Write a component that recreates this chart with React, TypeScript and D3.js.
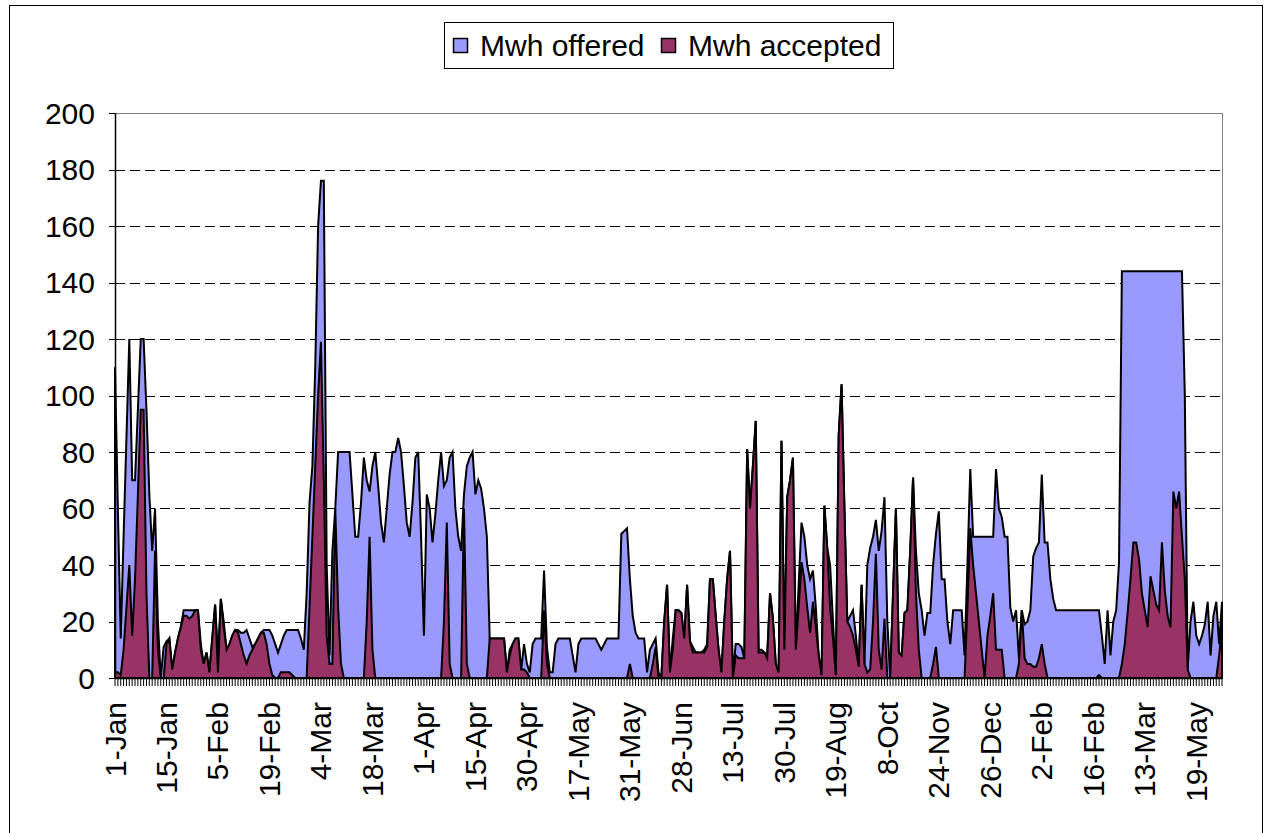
import React from "react";
import * as d3 from "d3";

// category labels shown every 18th point
const tickLabels = [
  "1-Jan", "15-Jan", "5-Feb", "19-Feb", "4-Mar", "18-Mar", "1-Apr", "15-Apr",
  "30-Apr", "17-May", "31-May", "28-Jun", "13-Jul", "30-Jul", "19-Aug", "8-Oct",
  "24-Nov", "26-Dec", "2-Feb", "16-Feb", "13-Mar", "19-May",
];
const labelEvery = 18;

const offered = [
  110, 60, 14, 50, 85, 120, 70, 70, 95, 120,
  120, 95, 65, 45, 60, 20, 0, 11, 13, 14,
  3, 9, 14, 18, 24, 24, 24, 24, 24, 24,
  12, 5, 9, 2, 14, 26, 8, 28, 20, 10,
  12, 15, 17, 17, 16, 16, 17, 14, 11, 12,
  14, 16, 17, 17, 17, 15, 12, 9, 12, 15,
  17, 17, 17, 17, 17, 14, 10, 30, 62, 75,
  110, 160, 176, 176, 40, 8, 45, 60, 80, 80,
  80, 80, 80, 65, 50, 50, 62, 78, 70, 66,
  75, 80, 68, 55, 48, 60, 72, 80, 80, 85,
  80, 68, 55, 50, 62, 78, 80, 50, 15, 65,
  60, 48, 58, 70, 80, 68, 70, 78, 80, 60,
  50, 45, 65, 75, 78, 80, 65, 70, 67, 60,
  50, 14, 14, 14, 14, 14, 14, 2, 10, 12,
  14, 14, 3, 12, 5, 2, 12, 14, 14, 14,
  38, 11, 2, 2, 12, 14, 14, 14, 14, 14,
  8, 2, 12, 14, 14, 14, 14, 14, 14, 12,
  10, 12, 14, 14, 14, 14, 14, 51, 52, 53,
  35, 22, 16, 14, 14, 14, 2, 10, 12, 14,
  2, 0, 20, 33, 2, 14, 24, 24, 23, 14,
  33, 13, 11, 9, 9, 9, 10, 12, 35, 35,
  22, 10, 2, 20, 35, 45, 1, 12, 12, 11,
  7, 81, 60, 75, 91, 10, 10, 9, 8, 30,
  21, 5, 2, 84, 10, 64, 70, 78, 10, 33,
  55, 50, 40, 35, 38, 25, 8, 1, 61, 46,
  40, 20, 1, 86, 104, 60, 20, 22, 24, 15,
  4, 33, 5, 40, 46, 50, 56, 45, 52, 64,
  20, 0, 30, 60, 9, 8, 23, 24, 45, 71,
  45, 30, 24, 15, 23, 23, 40, 51, 59, 35,
  35, 20, 12, 24, 24, 24, 24, 8, 40, 74,
  50, 50, 50, 50, 50, 50, 50, 50, 74, 60,
  57, 50, 50, 25, 20, 24, 7, 24, 19, 20,
  24, 43, 46, 48, 72, 48, 48, 35, 28, 24,
  24, 24, 24, 24, 24, 24, 24, 24, 24, 24,
  24, 24, 24, 24, 24, 15, 5, 24, 8, 20,
  24, 41, 144, 144, 144, 144, 144, 144, 144, 144,
  144, 144, 144, 144, 144, 144, 144, 144, 144, 144,
  144, 144, 144, 144, 100, 3, 20, 27, 15, 12,
  15, 19, 27, 8, 22, 27, 12, 27,
];

const accepted = [
  2, 2, 1, 10, 25, 40, 15, 35, 65, 95,
  95, 30, 0, 0, 45, 10, 0, 0, 12, 14,
  3, 9, 14, 18, 22, 22, 21, 22, 24, 24,
  10, 5, 9, 2, 14, 26, 2, 28, 18, 10,
  12, 15, 17, 16, 12, 8, 5, 8, 10, 12,
  14, 16, 16, 12, 5, 1, 0, 0, 2, 2,
  2, 2, 1, 0, 0, 0, 0, 0, 25, 50,
  75, 100, 119, 70, 15, 5, 5, 60, 25, 5,
  0, 0, 0, 0, 0, 0, 0, 0, 20, 50,
  10, 0, 0, 0, 0, 0, 0, 0, 0, 0,
  0, 0, 0, 0, 0, 0, 0, 0, 0, 0,
  0, 0, 0, 0, 0, 20, 55, 5, 0, 0,
  0, 0, 60, 5, 0, 0, 0, 0, 0, 0,
  0, 14, 14, 14, 14, 14, 14, 2, 8, 12,
  14, 14, 3, 3, 2, 0, 0, 0, 0, 0,
  24, 5, 0, 0, 0, 0, 0, 0, 0, 0,
  0, 0, 0, 0, 0, 0, 0, 0, 0, 0,
  0, 0, 0, 0, 0, 0, 0, 0, 0, 0,
  5, 0, 0, 0, 0, 0, 0, 0, 5, 11,
  0, 0, 20, 33, 2, 10, 24, 24, 23, 14,
  33, 13, 9, 9, 9, 9, 9, 11, 35, 35,
  22, 10, 2, 20, 35, 45, 0, 8, 7, 7,
  7, 81, 60, 75, 91, 9, 9, 9, 7, 30,
  21, 5, 2, 84, 10, 64, 70, 78, 10, 25,
  41, 35, 25, 16, 27, 18, 8, 1, 61, 46,
  25, 14, 1, 86, 104, 60, 20, 18, 15, 10,
  4, 33, 5, 2, 3, 20, 44, 10, 3, 21,
  0, 0, 30, 60, 9, 8, 23, 24, 45, 71,
  30, 10, 0, 0, 0, 0, 5, 11, 0, 0,
  0, 0, 0, 0, 0, 0, 0, 0, 25, 53,
  40, 30, 20, 10, 0, 15, 22, 30, 10, 10,
  10, 0, 0, 0, 0, 0, 5, 24, 7, 5,
  5, 4, 4, 7, 12, 5, 0, 0, 0, 0,
  0, 0, 0, 0, 0, 0, 0, 0, 0, 0,
  0, 0, 0, 0, 1, 0, 0, 0, 0, 0,
  0, 0, 5, 12, 23, 35, 48, 48, 42, 30,
  24, 18, 36, 31, 26, 24, 48, 31, 22, 18,
  66, 60, 66, 50, 35, 3, 0, 0, 0, 0,
  0, 0, 0, 0, 0, 0, 8, 18,
];

const yTicks = [0, 20, 40, 60, 80, 100, 120, 140, 160, 180, 200];

const seriesNames = ["Mwh offered", "Mwh accepted"];
const seriesColors = ["#9999FF", "#993366"];

const font = "'Liberation Sans', Arial, sans-serif";

export default function App() {
  const width = 1272;
  const height = 833;
  const left = 115, right = 1222, top = 113, bottom = 678;

  const x = d3.scaleLinear().domain([0, offered.length - 1]).range([left, right]);
  const y = d3.scaleLinear().domain([0, 200]).range([bottom, top]);

  const area = d3.area<number>()
    .x((d, i) => x(i))
    .y0(y(0))
    .y1(d => y(d));

  const idx = d3.range(offered.length);

  return (
    <svg width={width} height={height}
      style={{ position: "absolute", left: 0, top: 0, background: "#fff" }}
      fontFamily={font}>
      <rect x={9.5} y={5.5} width={1253} height={900} fill="#fff" stroke="#000" strokeWidth={1} />

      {/* plot frame top / right */}
      <line x1={left} x2={right} y1={top + 0.5} y2={top + 0.5} stroke="#808080" strokeWidth={1} />
      <line x1={right + 0.5} x2={right + 0.5} y1={top} y2={bottom} stroke="#808080" strokeWidth={1} />

      {/* gridlines */}
      {yTicks.filter(t => t > 0 && t < 200).map(t => (
        <line key={t} x1={left} x2={right} y1={Math.round(y(t)) + 0.5} y2={Math.round(y(t)) + 0.5}
          stroke="#000" strokeWidth={1} strokeDasharray="10,5" />
      ))}

      <path d={area(offered) || ""} fill={seriesColors[0]} stroke="#000" strokeWidth={2} />
      <path d={area(accepted) || ""} fill={seriesColors[1]} stroke="#000" strokeWidth={2} />

      {/* y axis */}
      <line x1={left + 0.5} x2={left + 0.5} y1={top} y2={bottom} stroke="#000" strokeWidth={1.5} />
      {yTicks.map(t => (
        <g key={t}>
          <line x1={left - 6} x2={left} y1={Math.round(y(t)) + 0.5} y2={Math.round(y(t)) + 0.5} stroke="#000" />
          <text x={left - 20} y={y(t)} dy="0.35em" textAnchor="end" fontSize={30}>{t}</text>
        </g>
      ))}

      {/* x axis */}
      <line x1={left} x2={right} y1={bottom + 0.5} y2={bottom + 0.5} stroke="#000" strokeWidth={1.5} />
      {idx.map(i => (
        <line key={i} x1={x(i)} x2={x(i)} y1={bottom} y2={bottom + 8} stroke="#000" strokeWidth={1} />
      ))}
      {tickLabels.map((lab, k) => {
        const xi = x(k * labelEvery);
        return (
          <text key={lab + k} transform={`translate(${xi},${bottom + 24}) rotate(-90)`}
            dy="0.35em" textAnchor="end" fontSize={30}>{lab}</text>
        );
      })}

      {/* legend */}
      <rect x={444.5} y={22.5} width={449} height={46} fill="#fff" stroke="#000" strokeWidth={1} />
      {seriesNames.map((name, k) => {
        const lx = k === 0 ? 453 : 661;
        return (
          <g key={name}>
            <rect x={lx + 0.5} y={38.5} width={14} height={14} fill={seriesColors[k]} stroke="#000" strokeWidth={1.5} />
            <text x={lx + 27} y={56} fontSize={30}>{name}</text>
          </g>
        );
      })}
    </svg>
  );
}
